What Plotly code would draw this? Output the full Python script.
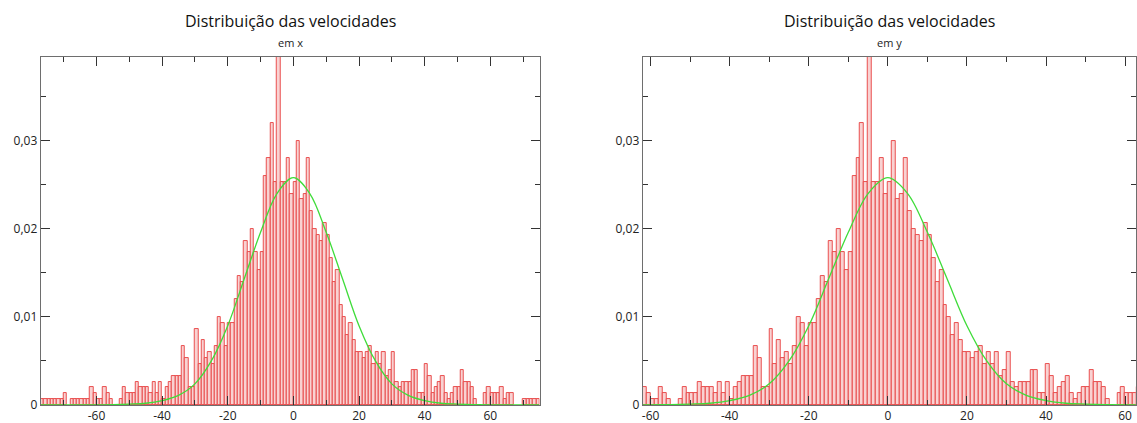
import plotly.graph_objects as go

# ---------------- data ----------------
# left edges of the 1-unit velocity bins
velocity_bins = list(range(-77, 75))

# counts per bin (same sample shown in both panels)
counts = [
    # -77 .. -63
    1, 1, 1, 1, 1, 1, 1, 2, 0, 1, 1, 1, 1, 1, 1,
    # -62 .. -30
    3, 2, 1, 1, 3, 2, 1, 0, 0, 1,
    3, 2, 2, 2, 4, 3, 3, 3, 2, 4,
    2, 4, 1, 3, 4, 5, 5, 5, 10, 8,
    3, 3, 13,
    # -29 .. -1
    7, 11, 8, 9, 7, 10, 15, 14, 10, 14,
    14, 18, 22, 21, 28, 26, 30, 26, 23, 26,
    39, 42, 48, 38, 60, 38, 38, 42, 36,
    # 0 .. 35
    38, 45, 35, 36, 42, 33, 30, 29, 28, 31,
    29, 25, 21, 23, 17, 15, 12, 14, 11, 9,
    9, 8, 9, 10, 7, 9, 7, 9, 5, 6,
    9, 4, 3, 4, 4, 4,
    # 36 .. 74
    6, 6, 2, 2, 7, 5, 2, 3, 4, 5,
    2, 1, 2, 3, 3, 6, 4, 4, 3, 1,
    0, 0, 2, 3, 2, 2, 2, 3, 1, 2,
    2, 0, 0, 0, 1, 1, 1, 1, 1,
]
SAMPLES = 1500
# empty bins draw nothing
density = [c / SAMPLES if c > 0 else None for c in counts]

# fitted curve, points
fit_x = [-77, -60, -55, -50, -45, -40, -35, -30, -25, -20, -15, -10, -5, 0,
         5, 10, 15, 20, 25, 30, 35, 40, 45, 50, 55, 60, 75]
fit_y = [0, 0.00001, 0.00004, 0.0001, 0.0002, 0.0005, 0.0011, 0.0024, 0.0050,
         0.0090, 0.0143, 0.0196, 0.0240, 0.0258, 0.0240, 0.0196, 0.0143, 0.0090,
         0.0050, 0.0024, 0.0011, 0.0005, 0.0002, 0.0001, 0.00004, 0.00001, 0]

x_tick_vals = [-60, -40, -20, 0, 20, 40, 60]
x_tick_text = ["-60", "-40", "-20", "0", "20", "40", "60"]
y_tick_vals = [0, 0.01, 0.02, 0.03]
y_tick_text = ["0", "0,01", "0,02", "0,03"]

main_title = "Distribuição das velocidades"
subtitles = ["em x", "em y"]
x_ranges = [[-77, 75], [-62, 62.7]]
y_range = [0, 0.0395]

# ---------------- figure ----------------
W, H = 1137, 423
FONT = "Open Sans"
x_domains = [[40.7 / W, 539.5 / W], [642.7 / W, 1135.8 / W]]
y_domain = [18 / H, 366 / H]

fig = go.Figure()
for i in range(2):
    xa = "x" if i == 0 else "x2"
    ya = "y" if i == 0 else "y2"
    fig.add_trace(go.Bar(
        x=velocity_bins, y=density, width=1, offset=0,
        marker=dict(color="#f9d2d2", line=dict(color="#e6403f", width=0.9)),
        xaxis=xa, yaxis=ya, showlegend=False, hoverinfo="skip",
    ))
    fig.add_trace(go.Scatter(
        x=fit_x, y=fit_y, mode="lines", cliponaxis=False,
        line=dict(color="#3fdc3a", width=1.3, shape="spline", smoothing=1.0),
        xaxis=xa, yaxis=ya, showlegend=False, hoverinfo="skip",
    ))

def xaxis_cfg(i):
    return dict(
        domain=x_domains[i], range=x_ranges[i], anchor="y" if i == 0 else "y2",
        automargin=False,
        showline=True, linecolor="#6e6e6e", linewidth=1, mirror="ticks",
        ticks="inside", ticklen=9, tickwidth=1, tickcolor="#333333",
        tickmode="array", tickvals=x_tick_vals, ticktext=x_tick_text,
        minor=dict(ticks="inside", ticklen=5, tickwidth=1, tickcolor="#333333",
                   tick0=0, dtick=10, showgrid=False),
        showgrid=False, zeroline=False,
        tickfont=dict(family=FONT, size=12, color="#222222"),
    )

def yaxis_cfg(i):
    return dict(
        domain=y_domain, range=y_range, anchor="x" if i == 0 else "x2",
        automargin=False,
        showline=True, linecolor="#6e6e6e", linewidth=1, mirror="ticks",
        ticks="inside", ticklen=9, tickwidth=1, tickcolor="#333333",
        tickmode="array", tickvals=y_tick_vals, ticktext=y_tick_text,
        minor=dict(ticks="inside", ticklen=5, tickwidth=1, tickcolor="#333333",
                   tick0=0, dtick=0.005, showgrid=False),
        showgrid=False, zeroline=False,
        tickfont=dict(family=FONT, size=12, color="#222222"),
    )

annotations = []
for i in range(2):
    cx = (x_domains[i][0] + x_domains[i][1]) / 2
    annotations.append(dict(
        text=main_title, x=cx, y=(H - 21) / H, xref="paper", yref="paper",
        showarrow=False, xanchor="center", yanchor="middle",
        font=dict(family=FONT, size=16, color="#111111"),
    ))
    annotations.append(dict(
        text=subtitles[i], x=cx, y=(H - 42) / H, xref="paper", yref="paper",
        showarrow=False, xanchor="center", yanchor="middle",
        font=dict(family=FONT, size=11, color="#222222"),
    ))

fig.update_layout(
    width=W, height=H,
    margin=dict(l=0, r=0, t=0, b=0, autoexpand=False),
    paper_bgcolor="white", plot_bgcolor="white",
    bargap=0,
    xaxis=xaxis_cfg(0), yaxis=yaxis_cfg(0),
    xaxis2=xaxis_cfg(1), yaxis2=yaxis_cfg(1),
    annotations=annotations,
)

fig.write_html("out.html")
